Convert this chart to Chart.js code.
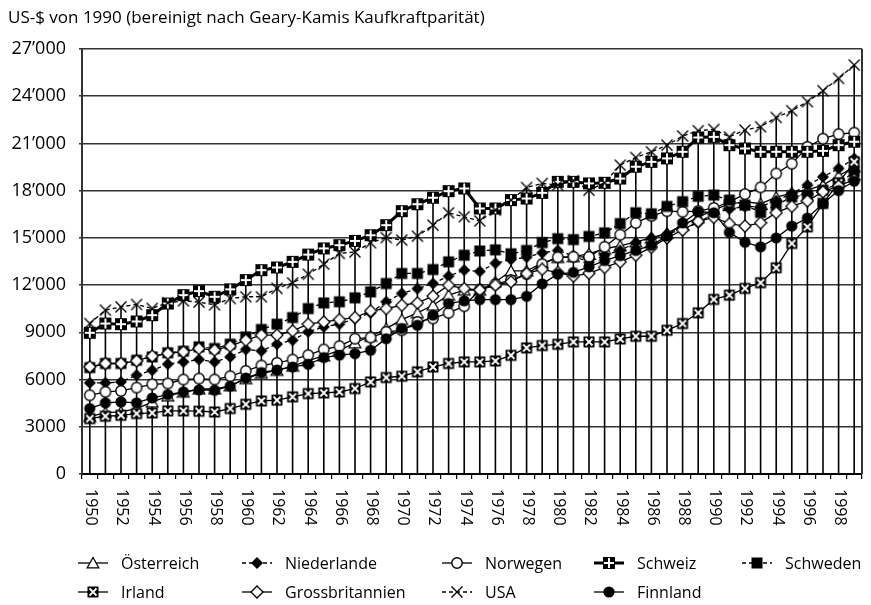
<!DOCTYPE html>
<html>
<head>
<meta charset="utf-8">
<script src="https://cdn.jsdelivr.net/npm/chart.js@4/dist/chart.umd.min.js"></script>
<style>
  html, body { margin: 0; padding: 0; background: #fff; }
  #wrap { width: 871px; height: 605px; }
</style>
</head>
<body>
<div id="wrap"><canvas id="chart" width="871" height="605"></canvas></div>
<script>
const years = ['1950','1951','1952','1953','1954','1955','1956','1957','1958','1959',
  '1960','1961','1962','1963','1964','1965','1966','1967','1968','1969',
  '1970','1971','1972','1973','1974','1975','1976','1977','1978','1979',
  '1980','1981','1982','1983','1984','1985','1986','1987','1988','1989',
  '1990','1991','1992','1993','1994','1995','1996','1997','1998','1999'];

const xTickLabels = ['1950','1952','1954','1956','1958','1960','1962','1964','1966','1968',
  '1970','1972','1974','1976','1978','1980','1982','1984','1986','1988',
  '1990','1992','1994','1996','1998'];

const yTicks = [0, 3000, 6000, 9000, 12000, 15000, 18000, 21000, 24000, 27000];
const yTickLabels = ['0', '3000', '6000', '9000', '12’000', '15’000', '18’000', '21’000', '24’000', '27’000'];

const oesterreich = [3650, 3900, 3950, 4150, 4570, 4950, 5200, 5400, 5400, 5600,
  6050, 6400, 6580, 6850, 7200, 7500, 7850, 8330, 8750, 9240,
  9810, 10240, 10720, 11360, 11680, 11680, 12200, 12900, 12900, 13400,
  13750, 13800, 14000, 14300, 14500, 14750, 15000, 15300, 15800, 16300,
  16800, 17150, 17300, 17170, 17590, 17850, 18050, 18350, 18950, 19500];

const niederlande = [5790, 5790, 5850, 6280, 6590, 6980, 7120, 7270, 7120, 7440,
  7910, 7820, 8250, 8500, 9030, 9350, 9520, 9880, 10240, 10940,
  11470, 11780, 12100, 12570, 12950, 12870, 13390, 13630, 13770, 14050,
  14200, 13850, 13450, 13900, 14200, 14700, 15000, 15250, 15540, 15960,
  16550, 16830, 16990, 16990, 17360, 17820, 18350, 18880, 19410, 20040];

const norwegen = [5000, 5220, 5280, 5490, 5700, 5750, 6000, 6060, 6000, 6210,
  6550, 6890, 7060, 7270, 7550, 7910, 8120, 8600, 8670, 9030,
  9130, 9660, 9880, 10240, 10660, 11720, 12060, 12320, 12700, 13330,
  13770, 13800, 13800, 14430, 15200, 15950, 16400, 16700, 16660, 16700,
  16900, 17290, 17780, 18210, 19090, 19710, 20780, 21300, 21590, 21680];

const schweiz = [8970, 9560, 9520, 9690, 10090, 10830, 11360, 11620, 11260, 11730,
  12320, 12950, 13120, 13480, 13940, 14330, 14540, 14810, 15170, 15810,
  16700, 17140, 17550, 17970, 18140, 16870, 16870, 17400, 17500, 17860,
  18560, 18560, 18460, 18500, 18770, 19520, 19830, 20050, 20470, 21380,
  21420, 20890, 20680, 20470, 20470, 20470, 20470, 20530, 20890, 21110];

const schweden = [6760, 7020, 7020, 7230, 7440, 7700, 7800, 8080, 7970, 8250,
  8710, 9180, 9520, 9940, 10510, 10870, 10940, 11190, 11570, 12100,
  12740, 12740, 12990, 13480, 13900, 14170, 14240, 13990, 14200, 14700,
  14950, 14890, 15090, 15320, 15910, 16600, 16530, 17000, 17300, 17640,
  17720, 17400, 17080, 16620, 17080, 17610, 17720, 18030, 18450, 19200];

const irland = [3520, 3670, 3730, 3840, 3880, 4010, 4010, 3990, 3940, 4160,
  4430, 4640, 4690, 4900, 5110, 5150, 5210, 5430, 5850, 6130,
  6210, 6490, 6800, 7020, 7120, 7120, 7180, 7540, 8010, 8160,
  8240, 8390, 8390, 8390, 8580, 8750, 8750, 9130, 9560, 10240,
  11090, 11360, 11790, 12150, 13100, 14650, 15700, 17190, 18500, 19830];

const grossbritannien = [6810, 7020, 7020, 7190, 7490, 7660, 7760, 7970, 7870, 8120,
  8500, 8820, 8820, 9090, 9520, 9660, 9810, 9940, 10360, 10510,
  10720, 10870, 11300, 11990, 11780, 11690, 12000, 12210, 12740, 13000,
  12800, 12570, 12750, 13120, 13480, 13900, 14400, 15000, 15500, 16050,
  16300, 15900, 15750, 15960, 16600, 17000, 17350, 17930, 18300, 18700];

const usa = [9560, 10410, 10620, 10770, 10520, 10880, 11000, 10920, 10750, 11150,
  11260, 11260, 11790, 12140, 12690, 13330, 14010, 14110, 14690, 15020,
  14860, 15110, 15810, 16590, 16340, 16080, 16760, 17400, 18200, 18460,
  18350, 18630, 18030, 18500, 19620, 20110, 20470, 20890, 21470, 21810,
  21890, 21420, 21850, 22060, 22650, 23080, 23650, 24350, 25130, 25980];

const finnland = [4160, 4520, 4580, 4520, 4830, 5040, 5220, 5340, 5320, 5580,
  6100, 6450, 6610, 6800, 6970, 7400, 7550, 7650, 7860, 8600,
  9240, 9450, 10090, 10830, 11000, 11080, 11080, 11080, 11290, 12080,
  12700, 12810, 13160, 13560, 13870, 14200, 14530, 15110, 15950, 16660,
  16600, 15350, 14720, 14430, 15000, 15750, 16260, 17190, 18010, 18600];

const FONT = '"Open Sans", "DejaVu Sans", sans-serif';

// small canvases used as point markers (chart + legend)
function marker(kind) {
  const c = document.createElement('canvas');
  c.width = 14; c.height = 14;
  const g = c.getContext('2d');
  g.lineWidth = 1.3;
  g.strokeStyle = '#000';
  g.fillStyle = '#000';
  g.beginPath();
  if (kind === 'triOpen') {
    g.moveTo(7, 1.5); g.lineTo(12.8, 11.8); g.lineTo(1.2, 11.8); g.closePath();
    g.fillStyle = '#fff'; g.fill(); g.stroke();
  } else if (kind === 'diaFill') {
    g.moveTo(7, 1); g.lineTo(13, 7); g.lineTo(7, 13); g.lineTo(1, 7); g.closePath(); g.fill();
  } else if (kind === 'diaOpen') {
    g.moveTo(7, 1); g.lineTo(13, 7); g.lineTo(7, 13); g.lineTo(1, 7); g.closePath();
    g.fillStyle = '#fff'; g.fill(); g.stroke();
  } else if (kind === 'circOpen') {
    g.arc(7, 7, 5.2, 0, Math.PI * 2);
    g.fillStyle = '#fff'; g.fill(); g.lineWidth = 1.4; g.stroke();
  } else if (kind === 'circFill') {
    g.arc(7, 7, 5.6, 0, Math.PI * 2); g.fill();
  } else if (kind === 'sqFill') {
    g.fillRect(1.5, 1.5, 11, 11);
  } else if (kind === 'plusSq') {
    g.fillRect(1, 1, 12, 12);
    g.fillStyle = '#fff';
    g.fillRect(6, 2, 2, 10); g.fillRect(2, 6, 10, 2);
  } else if (kind === 'xSq') {
    g.fillRect(1.5, 1.5, 11, 11);
    g.strokeStyle = '#fff'; g.lineWidth = 1.8;
    g.moveTo(3.5, 3.5); g.lineTo(10.5, 10.5); g.moveTo(10.5, 3.5); g.lineTo(3.5, 10.5); g.stroke();
  } else if (kind === 'cross') {
    g.lineWidth = 1.4;
    g.moveTo(1.5, 1.5); g.lineTo(12.5, 12.5); g.moveTo(12.5, 1.5); g.lineTo(1.5, 12.5); g.stroke();
  }
  return c;
}

function series(label, data, kind, width, dash) {
  return {
    label, data,
    borderColor: '#000',
    borderWidth: width,
    borderDash: dash,
    pointStyle: marker(kind),
    pointRadius: 6,
    tension: 0,
    fill: false
  };
}

const datasets = [
  series('Österreich', oesterreich, 'triOpen', 1.3, []),
  series('Niederlande', niederlande, 'diaFill', 1.3, [4, 3]),
  series('Norwegen', norwegen, 'circOpen', 1.3, []),
  series('Schweiz', schweiz, 'plusSq', 3, []),
  series('Schweden', schweden, 'sqFill', 1.3, [4, 3]),
  series('Irland', irland, 'xSq', 1.3, []),
  series('Grossbritannien', grossbritannien, 'diaOpen', 1.3, []),
  series('USA', usa, 'cross', 1.3, [4, 3]),
  series('Finnland', finnland, 'circFill', 1.3, [])
];
// later series are drawn on top
datasets.forEach((d, i) => { d.order = datasets.length - i; });

// vertical lines from the highest value of each year down to the axis, plus right frame
const dropLines = {
  id: 'dropLines',
  beforeDatasetsDraw(chart) {
    const { ctx, chartArea, scales: { x, y } } = chart;
    ctx.save();
    ctx.strokeStyle = '#000';
    ctx.lineWidth = 1.6;
    years.forEach((yr, i) => {
      const top = Math.max(...chart.data.datasets.map(d => d.data[i]));
      const px = x.getPixelForValue(i);
      ctx.beginPath();
      ctx.moveTo(px, y.getPixelForValue(top));
      ctx.lineTo(px, y.getPixelForValue(0));
      ctx.stroke();
    });
    ctx.strokeStyle = '#333';
    ctx.lineWidth = 2;
    ctx.beginPath();
    ctx.moveTo(chartArea.right, chartArea.top);
    ctx.lineTo(chartArea.right, chartArea.bottom);
    ctx.stroke();
    ctx.restore();
  }
};

// year labels, reading top to bottom
const yearLabels = {
  id: 'yearLabels',
  afterDraw(chart) {
    const { ctx, scales: { x } } = chart;
    ctx.save();
    ctx.fillStyle = '#000';
    ctx.font = '16px ' + FONT;
    ctx.textAlign = 'left';
    ctx.textBaseline = 'middle';
    xTickLabels.forEach(lbl => {
      const px = x.getPixelForValue(years.indexOf(lbl));
      ctx.save();
      ctx.translate(px + 1, x.top + 15);
      ctx.rotate(Math.PI / 2);
      ctx.fillText(lbl, 0, 0);
      ctx.restore();
    });
    ctx.restore();
  }
};

// two-row legend in fixed columns
const gridLegend = {
  id: 'gridLegend',
  afterDraw(chart) {
    const { ctx } = chart;
    const cols = [78, 242, 442, 594, 742];
    const rows = [563, 592];
    ctx.save();
    ctx.font = '16px ' + FONT;
    ctx.fillStyle = '#000';
    ctx.textBaseline = 'middle';
    chart.data.datasets.forEach((d, i) => {
      const lx = cols[i % 5];
      const ly = rows[Math.floor(i / 5)];
      ctx.save();
      ctx.strokeStyle = '#000';
      ctx.lineWidth = d.borderWidth;
      ctx.setLineDash(d.borderDash);
      ctx.beginPath();
      ctx.moveTo(lx, ly); ctx.lineTo(lx + 30, ly);
      ctx.stroke();
      ctx.restore();
      const m = d.pointStyle;
      ctx.drawImage(m, lx + 15 - m.width / 2, ly - m.height / 2);
      ctx.fillText(d.label, lx + 43, ly + 1);
    });
    ctx.restore();
  }
};

Chart.defaults.font.family = FONT;
Chart.defaults.color = '#000';

new Chart(document.getElementById('chart'), {
  type: 'line',
  data: { labels: years, datasets },
  options: {
    responsive: false,
    animation: false,
    events: [],
    layout: { padding: { left: 8, right: 5, top: 0, bottom: 0 } },
    plugins: {
      legend: { display: false },
      tooltip: { enabled: false },
      title: {
        display: true,
        text: 'US-$ von 1990 (bereinigt nach Geary-Kamis Kaufkraftparität)',
        align: 'start',
        color: '#000',
        font: { size: 17, weight: 'normal', lineHeight: 1 },
        padding: { top: 10, bottom: 22 }
      }
    },
    scales: {
      x: {
        offset: true,
        grid: { display: true, drawOnChartArea: false, drawTicks: true, tickLength: 5, offset: true, color: '#000', lineWidth: 1.2 },
        border: { display: true, color: '#000', width: 2 },
        ticks: { display: false, autoSkip: false },
        afterFit(scale) { scale.height = 131; }
      },
      y: {
        min: 0,
        max: 27000,
        afterBuildTicks(scale) { scale.ticks = yTicks.map(v => ({ value: v })); },
        ticks: {
          padding: 13,
          font: { size: 18 },
          callback: (v) => yTickLabels[yTicks.indexOf(v)]
        },
        grid: { color: '#333', lineWidth: 1.6, drawTicks: true, tickLength: 3 },
        border: { display: true, color: '#333', width: 2 },
        afterFit(scale) { scale.width = 74; }
      }
    }
  },
  plugins: [dropLines, yearLabels, gridLegend]
});
</script>
</body>
</html>
